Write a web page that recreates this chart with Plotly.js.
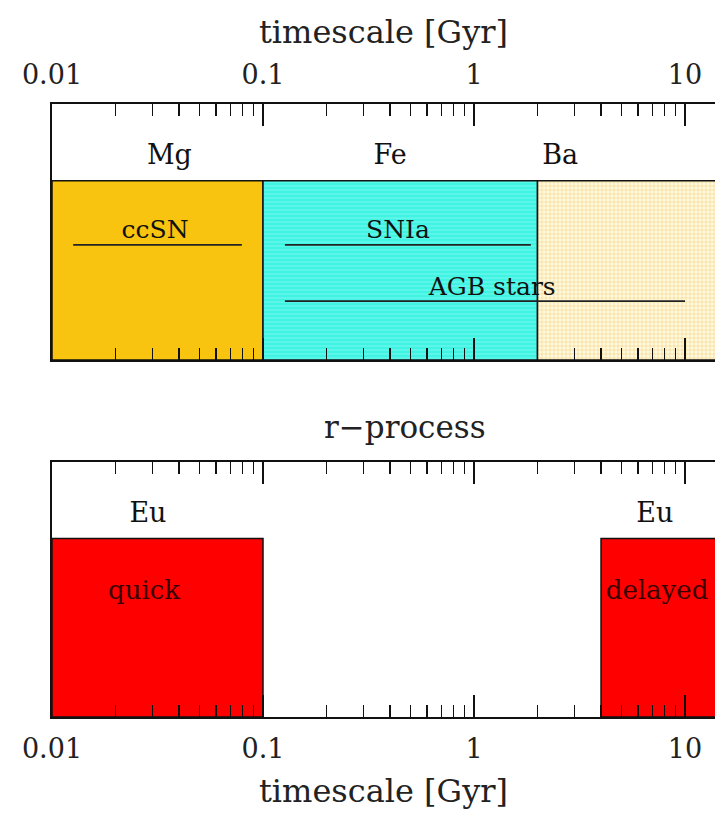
<!DOCTYPE html>
<html>
<head>
<meta charset="utf-8">
<script src="https://cdn.plot.ly/plotly-3.0.1.min.js"></script>
<style>
  html, body { margin: 0; padding: 0; background: #ffffff; }
  #chart { width: 715px; height: 815px; }
</style>
</head>
<body>
<div id="chart"></div>
<script>
// ---- s-process / SN enrichment channels (upper panel), timescales in Gyr ----
const bandStart   = [0.01, 0.1, 2];
const bandEnd     = [0.1, 2, 14];
const bandElement = ['Mg', 'Fe', 'Ba'];
const bandElementAt = [0.036, 0.4, 2.56];

const sourceNames  = ['ccSN', 'SNIa', 'AGB stars'];
const sourceFrom   = [0.0126, 0.127, 0.127];
const sourceTo     = [0.0794, 1.86, 10];
const sourceLabelAt = [0.0308, 0.436, 1.22];

// ---- r-process channels (lower panel) ----
const rStart    = [0.01, 4];
const rEnd      = [0.1, 14];
const rNames    = ['quick', 'delayed'];
const rLabelAt  = [0.0273, 7.37];
const rElement  = ['Eu', 'Eu'];
const rElementAt = [0.0285, 7.2];

// axis ticks
const tickVals = [0.01, 0.1, 1, 10];
const tickText = ['0.01', '0.1', '1', '10'];

// ---- styling ----
const FONT = 'DejaVu Serif, Liberation Serif, serif';
const BOX_TOP = 0.7;
const SOURCE_LEVEL = [0.45, 0.45, 0.23];
const LABEL_LIFT = 0.05;

const bandStyles = [
  { fillcolor: '#F8C40F', fillpattern: null },
  { fillcolor: '#40F4E2', fillpattern: { shape: '-', fgcolor: '#66F8EC', bgcolor: '#40F4E2', size: 4, solidity: 0.35 } },
  { fillcolor: '#FFF7DC', fillpattern: { shape: '+', fgcolor: '#F4D985', bgcolor: '#FFF8E2', size: 4, solidity: 0.3 } }
];

// minor ticks at 2..9 of every decade
const minorVals = [];
for (let d = -2; d <= 1; d++) {
  for (let k = 2; k <= 9; k++) minorVals.push(k * Math.pow(10, d));
}

const traces = [];

function box(x0, x1, xa, ya, style) {
  const t = {
    x: [x0, x1, x1, x0, x0],
    y: [0, 0, BOX_TOP, BOX_TOP, 0],
    xaxis: xa, yaxis: ya,
    mode: 'lines',
    fill: 'toself',
    fillcolor: style.fillcolor,
    line: { color: '#111111', width: 1.5 },
    hoverinfo: 'skip',
    showlegend: false
  };
  if (style.fillpattern) t.fillpattern = style.fillpattern;
  return t;
}

function label(xs, ys, texts, xa, ya, size, color) {
  return {
    x: xs, y: ys, text: texts,
    xaxis: xa, yaxis: ya,
    mode: 'text',
    textposition: 'middle center',
    textfont: { family: FONT, size: size, color: color || '#111111' },
    hoverinfo: 'skip',
    showlegend: false,
    cliponaxis: false
  };
}

// upper panel bands
for (let i = 0; i < bandStart.length; i++) {
  traces.push(box(bandStart[i], bandEnd[i], 'x', 'y', bandStyles[i]));
}
// source duration bars
for (let i = 0; i < sourceNames.length; i++) {
  traces.push({
    x: [sourceFrom[i], sourceTo[i]],
    y: [SOURCE_LEVEL[i], SOURCE_LEVEL[i]],
    xaxis: 'x', yaxis: 'y',
    mode: 'lines',
    line: { color: '#222222', width: 1.8 },
    hoverinfo: 'skip', showlegend: false
  });
}
traces.push(label(sourceLabelAt, SOURCE_LEVEL.map(v => v + LABEL_LIFT), sourceNames, 'x', 'y', 25));
traces.push(label(bandElementAt, bandElementAt.map(() => 0.79), bandElement, 'x', 'y', 27));

// lower panel
for (let i = 0; i < rStart.length; i++) {
  traces.push(box(rStart[i], rEnd[i], 'x2', 'y2', { fillcolor: '#FF0000', fillpattern: null }));
}
traces.push(label(rLabelAt, rLabelAt.map(() => 0.49), rNames, 'x2', 'y2', 26, '#3a0000'));
traces.push(label(rElementAt, rElementAt.map(() => 0.79), rElement, 'x2', 'y2', 27));

function xAxis(anchor, side, standoff) {
  return {
    type: 'log',
    range: [-2, 1.1422],
    domain: [0, 1],
    anchor: anchor,
    side: side,
    tickmode: 'array',
    tickvals: tickVals,
    ticktext: tickText,
    ticks: 'inside',
    ticklen: 22,
    tickwidth: 1.5,
    tickcolor: '#111111',
    ticklabelstandoff: 7,
    tickfont: { family: FONT, size: 27, color: '#222222' },
    minor: { tickvals: minorVals, ticks: 'inside', ticklen: 12, tickwidth: 1.5, tickcolor: '#111111', showgrid: false },
    showline: true,
    linewidth: 2,
    linecolor: '#111111',
    mirror: 'ticks',
    showgrid: false,
    zeroline: false,
    fixedrange: true,
    title: { text: 'timescale [Gyr]', font: { family: FONT, size: 32, color: '#222222' }, standoff: standoff }
  };
}

function yAxis(anchor, domain) {
  return {
    anchor: anchor,
    domain: domain,
    range: [0, 1],
    showticklabels: false,
    ticks: '',
    showgrid: false,
    zeroline: false,
    showline: true,
    linewidth: 2,
    linecolor: '#111111',
    mirror: false,
    fixedrange: true
  };
}

const layout = {
  width: 715,
  height: 815,
  margin: { l: 52, r: 0, t: 0, b: 0, pad: 0 },
  paper_bgcolor: '#ffffff',
  plot_bgcolor: '#ffffff',
  showlegend: false,
  xaxis: xAxis('y', 'top', 6),
  yaxis: yAxis('x', [0.5583, 0.8724]),
  xaxis2: xAxis('y2', 'bottom', 16),
  yaxis2: yAxis('x2', [0.1202, 0.4331]),
  annotations: [{
    text: 'r\u2212process',
    xref: 'paper', yref: 'paper',
    x: 0.532, y: 0.476,
    xanchor: 'center', yanchor: 'middle',
    showarrow: false,
    font: { family: FONT, size: 31, color: '#222222' }
  }]
};

Plotly.newPlot('chart', traces, layout, { staticPlot: true, displayModeBar: false });
</script>
</body>
</html>
